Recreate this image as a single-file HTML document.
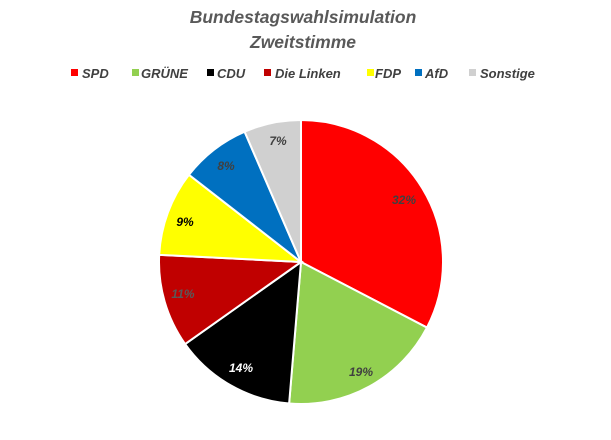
<!DOCTYPE html>
<html><head><meta charset="utf-8"><style>
body{margin:0;background:#fff;width:611px;height:435px;overflow:hidden;font-family:"Liberation Sans",sans-serif}
</style></head><body>
<svg width="611" height="435" xmlns="http://www.w3.org/2000/svg" font-family="Liberation Sans, sans-serif" font-weight="bold" font-style="italic">
<text x="303" y="23" text-anchor="middle" font-size="17.5" fill="#595959">Bundestagswahlsimulation</text>
<text x="303" y="48" text-anchor="middle" font-size="17.5" fill="#595959">Zweitstimme</text>
<g font-size="13" fill="#404040">
<rect x="71" y="69" width="7" height="7" fill="#ff0000"/><text x="82" y="78">SPD</text>
<rect x="132" y="69" width="7" height="7" fill="#92d050"/><text x="141" y="78">GRÜNE</text>
<rect x="207" y="69" width="7" height="7" fill="#000"/><text x="217" y="78">CDU</text>
<rect x="264" y="69" width="7" height="7" fill="#c00000"/><text x="275" y="78">Die Linken</text>
<rect x="367" y="69" width="7" height="7" fill="#ffff00"/><text x="375" y="78">FDP</text>
<rect x="415" y="69" width="7" height="7" fill="#0070c0"/><text x="425" y="78">AfD</text>
<rect x="469" y="69" width="7" height="7" fill="#d0d0d0"/><text x="480" y="78">Sonstige</text>
</g>
<g stroke="#fff" stroke-width="2" id="pie"></g>
<g font-size="12">
<text x="404" y="204" text-anchor="middle" fill="#404040">32%</text>
<text x="361" y="376" text-anchor="middle" fill="#404040">19%</text>
<text x="241" y="372" text-anchor="middle" fill="#fff">14%</text>
<text x="183" y="298" text-anchor="middle" fill="#595959">11%</text>
<text x="185" y="226" text-anchor="middle" fill="#000">9%</text>
<text x="226" y="170" text-anchor="middle" fill="#404040">8%</text>
<text x="278" y="145" text-anchor="middle" fill="#404040">7%</text>
</g>
</svg>
<script>
var a=[0,117.5,184.8,234.7,272.9,307.9,336.6,360],c=["#ff0000","#92d050","#000000","#c00000","#ffff00","#0070c0","#d0d0d0"],cx=301,cy=262,r=142,g=document.getElementById("pie"),s="";
function p(d){var t=d*Math.PI/180;return (cx+r*Math.sin(t)).toFixed(2)+","+(cy-r*Math.cos(t)).toFixed(2)}
for(var i=0;i<7;i++){s+='<path fill="'+c[i]+'" d="M'+cx+','+cy+' L'+p(a[i])+' A'+r+','+r+' 0 '+((a[i+1]-a[i])>180?1:0)+' 1 '+p(a[i+1])+' Z"/>';}
g.innerHTML=s;
</script>
</body></html>
